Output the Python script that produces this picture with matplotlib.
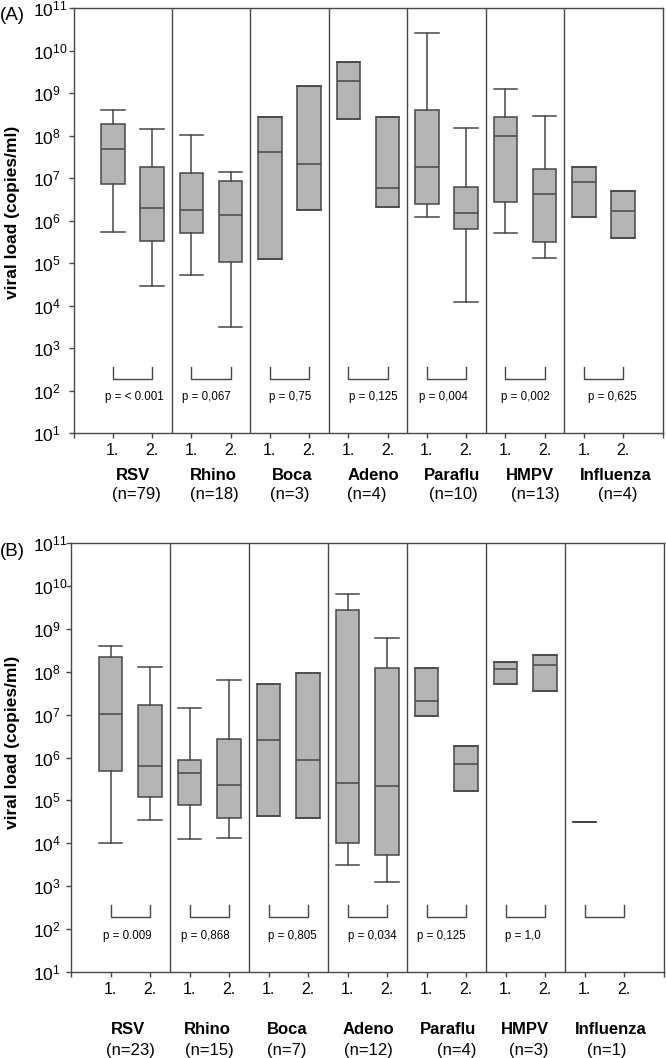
import numpy as np
import matplotlib
matplotlib.use('Agg')
import matplotlib.pyplot as plt

plt.rcParams['font.family'] = 'Liberation Sans'
plt.rcParams['mathtext.fontset'] = 'custom'
plt.rcParams['mathtext.rm'] = 'Liberation Sans'

viruses = ['RSV', 'Rhino', 'Boca', 'Adeno', 'Paraflu', 'HMPV', 'Influenza']
timepoints = ['1.', '2.']

# panel A: boxes in order RSV 1, RSV 2, Rhino 1, Rhino 2, ...  (copies/ml)
n_a = ['(n=79)', '(n=18)', '(n=3)', '(n=4)', '(n=10)', '(n=13)', '(n=4)']
p_a = ['p = < 0.001', 'p = 0,067', 'p = 0,75', 'p = 0,125', 'p = 0,004', 'p = 0,002', 'p = 0,625']
lo_a = [5.5e5, 2.9e4, 5.1e4, 3.1e3, None, None, None, None, 1.19e6, 1.23e4, 5.0e5, 1.3e5, None, None]
q1_a = [7.2e6, 3.3e5, 5.0e5, 1.05e5, 1.23e5, 1.8e6, 2.4e8, 2.1e6, 2.45e6, 6.2e5, 2.75e6, 3.2e5, 1.19e6, 3.8e5]
med_a = [4.8e7, 1.95e6, 1.8e6, 1.35e6, 4.2e7, 2.1e7, 1.9e9, 5.8e6, 1.8e7, 1.48e6, 1.0e8, 4.3e6, 8.1e6, 1.7e6]
q3_a = [1.9e8, 1.8e7, 1.33e7, 8.7e6, 2.7e8, 1.5e9, 5.4e9, 2.7e8, 3.9e8, 6.0e6, 2.7e8, 1.6e7, 1.8e7, 4.9e6]
hi_a = [3.9e8, 1.4e8, 1.05e8, 1.4e7, None, None, None, None, 2.6e10, 1.53e8, 1.23e9, 2.9e8, None, None]

# panel B
n_b = ['(n=23)', '(n=15)', '(n=7)', '(n=12)', '(n=4)', '(n=3)', '(n=1)']
p_b = ['p = 0.009', 'p = 0,868', 'p = 0,805', 'p = 0,034', 'p = 0,125', 'p = 1,0', '']
lo_b = [1.0e4, 3.5e4, 1.23e4, 1.32e4, None, None, 3.2e3, 1.26e3, None, None, None, None, None, None]
q1_b = [4.9e5, 1.17e5, 7.8e4, 3.8e4, 4.4e4, 3.8e4, 1.0e4, 5.2e3, 9.3e6, 1.7e5, 5.1e7, 3.6e7, 3.1e4, None]
med_b = [1.02e7, 6.2e5, 4.3e5, 2.3e5, 2.5e6, 8.7e5, 2.6e5, 2.2e5, 2.1e7, 6.9e5, 1.15e8, 1.4e8, 3.1e4, None]
q3_b = [2.2e8, 1.66e7, 8.7e5, 2.7e6, 5.1e7, 9.1e7, 2.75e9, 1.23e8, 1.23e8, 1.86e6, 1.7e8, 2.45e8, 3.1e4, None]
hi_b = [3.9e8, 1.32e8, 1.45e7, 6.5e7, None, None, 6.5e9, 6.2e8, None, None, None, None, None, None]

# small horizontal text nudges (pixels) as seen in the original layout
name_dx_a = [1, 2, 3, 5, 5, 5, 12]
n_dx_a = [4, 3, 0, -1, 7, 10, 14]
p_dx_a = [2, -5, 1, 5, -3, 0, 9]
name_dx_b = [-2, -2, -1, 1, 2, 0, 7]
n_dx_b = [0, 0, -2, 1, 10, 4, 2]
p_dx_b = [-3, -4, 4, 5, -5, -2, 0]

line_c = '#474747'
box_c = '#b4b4b4'
W, H = 666, 1058


def draw_panel(ax, left_px, lo, q1, med, q3, hi, p_labels, n_labels,
               name_dy, n_dy, name_dx, n_dx, p_dx):
    stats, pos = [], []
    for i in range(len(med)):
        if med[i] is None:
            continue
        stats.append(dict(med=med[i], q1=q1[i], q3=q3[i],
                          whislo=lo[i] if lo[i] is not None else q1[i],
                          whishi=hi[i] if hi[i] is not None else q3[i],
                          fliers=[]))
        pos.append(i)
    ax.bxp(stats, positions=pos, widths=0.6, capwidths=0.6, patch_artist=True,
           showfliers=False, manage_ticks=False,
           boxprops=dict(facecolor=box_c, edgecolor=line_c, linewidth=1.1),
           medianprops=dict(color=line_c, linewidth=1.1),
           whiskerprops=dict(color=line_c, linewidth=1.1),
           capprops=dict(color=line_c, linewidth=1.1))

    ax.set_yscale('log')
    ax.set_ylim(10, 1e11)
    ax.set_xlim(-1, 14)
    for g in range(6):
        ax.axvline(2 * g + 1.5, color=line_c, lw=1.0)
    for s in ax.spines.values():
        s.set_color(line_c)
        s.set_linewidth(1.0)

    ax.set_yticks(10.0 ** np.arange(1, 12))
    ax.minorticks_off()
    pad = (left_px - 33 - 5) * 0.72
    ax.tick_params(axis='y', length=3.6, width=1.0, color=line_c, labelsize=12.5, pad=pad)
    for t in ax.get_yticklabels():
        t.set_horizontalalignment('left')

    ax.set_xticks(np.arange(-1, 15))
    ax.set_xticklabels([''] + timepoints * 7 + [''])
    ax.tick_params(axis='x', length=3.6, width=1.0, color=line_c, labelsize=11.5, pad=3.5)

    for g in range(7):
        x1, x2 = 2 * g, 2 * g + 1
        c = 2 * g + 0.5
        ax.plot([x1, x1, x2, x2], [3.6e2, 1.9e2, 1.9e2, 3.6e2], color=line_c, lw=1.0)
        ax.annotate(p_labels[g], xy=(c, 70), xytext=(p_dx[g], 0), textcoords='offset pixels',
                    ha='center', va='center', fontsize=8.3)
        ax.annotate(viruses[g], xy=(c, 0), xycoords=('data', 'axes fraction'),
                    xytext=(name_dx[g], name_dy), textcoords='offset pixels', ha='center',
                    va='center', fontsize=12, fontweight='bold', annotation_clip=False)
        ax.annotate(n_labels[g], xy=(c, 0), xycoords=('data', 'axes fraction'),
                    xytext=(n_dx[g], n_dy), textcoords='offset pixels', ha='center',
                    va='center', fontsize=12, annotation_clip=False)

    ax.set_ylabel('viral load (copies/ml)', fontsize=12.5, fontweight='bold')


fig = plt.figure(figsize=(W / 100, H / 100), dpi=100)
axA = fig.add_axes([73.5 / W, 1 - 433 / H, 589 / W, 425 / H])
axB = fig.add_axes([71 / W, 1 - 972 / H, 592.5 / W, 429 / H])

draw_panel(axA, 73.5, lo_a, q1_a, med_a, q3_a, hi_a, p_a, n_a, -43, -62,
           name_dx_a, n_dx_a, p_dx_a)
draw_panel(axB, 71, lo_b, q1_b, med_b, q3_b, hi_b, p_b, n_b, -57, -78,
           name_dx_b, n_dx_b, p_dx_b)
axA.yaxis.set_label_coords(-0.091, 0.519)
axB.yaxis.set_label_coords(-0.086, 0.536)

fig.text(0.0, 1 - 15 / H, '(A)', ha='left', va='center', fontsize=13.5)
fig.text(0.0, 1 - 552 / H, '(B)', ha='left', va='center', fontsize=13.5)

fig.savefig('out.png', dpi=100)
